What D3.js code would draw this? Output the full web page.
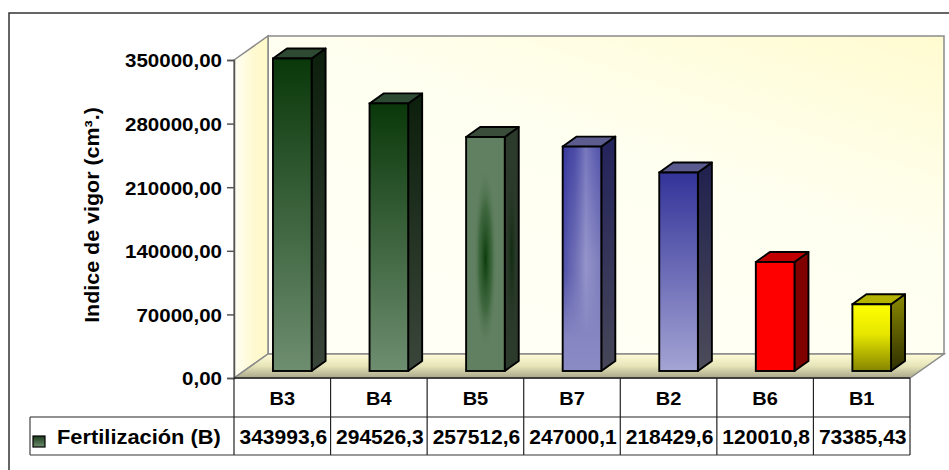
<!DOCTYPE html>
<html>
<head>
<meta charset="utf-8">
<script src="https://cdn.jsdelivr.net/npm/d3@7"></script>
<style>
  html, body { margin: 0; padding: 0; background: #fff; }
  svg { display: block; font-family: "Liberation Sans", Arial, sans-serif; font-weight: bold; }
</style>
</head>
<body>
<svg id="chart" width="949" height="470"></svg>
<script>
// Data
const categories = ["B3", "B4", "B5", "B7", "B2", "B6", "B1"];
const values = [343993.6, 294526.3, 257512.6, 247000.1, 218429.6, 120010.8, 73385.43];
const valueLabels = ["343993,6", "294526,3", "257512,6", "247000,1", "218429,6", "120010,8", "73385,43"];
const tickValues = [0, 70000, 140000, 210000, 280000, 350000];
const seriesName = "Fertilización (B)";
const axisTitle = "Indice de vigor (cm³.)";

const svg = d3.select("#chart");
const defs = svg.append("defs");

// Plot geometry
const plotLeft = 234, plotRight = 910, plotBottom = 378, plotTop = 60;
const wallDX = 34, wallDY = -24;          // depth of the 3D box
const barFrontDX = 10, barFrontDY = -7;    // bar front face offset into depth
const barDX = 14, barDY = -10;             // bar depth

const x = d3.scaleBand().domain(categories).range([plotLeft, plotRight]).padding(0);
const y = d3.scaleLinear().domain([0, 350000]).range([plotBottom, plotTop]);

// Gradient helpers
function linGrad(id, stops, x1 = 0, y1 = 0, x2 = 0, y2 = 1) {
  const g = defs.append("linearGradient").attr("id", id)
    .attr("x1", x1).attr("y1", y1).attr("x2", x2).attr("y2", y2);
  stops.forEach(([o, c, op]) => g.append("stop").attr("offset", o).attr("stop-color", c)
    .attr("stop-opacity", op == null ? 1 : op));
  return `url(#${id})`;
}

// Walls
const backWall = linGrad("backWall", [[0, "#fffbd0"], [0.45, "#fffff0"], [1, "#fffff6"]], 1, 0, 0.3, 1);
const leftWall = linGrad("leftWall", [[0, "#fffff4"], [0.6, "#fff9d0"], [1, "#fff8c8"]], 0, 0, 1, 0);
const floorG = linGrad("floorG", [[0, "#fdfcd8"], [0.5, "#e6e4b8"], [1, "#a9a78a"]], 0, 0, 0, 1);

svg.append("rect")
  .attr("x", plotLeft + wallDX).attr("y", plotTop + wallDY)
  .attr("width", plotRight - plotLeft).attr("height", plotBottom - plotTop)
  .attr("fill", backWall).attr("stroke", "#8a8a8a").attr("stroke-width", 1.5);

svg.append("path")
  .attr("d", `M${plotLeft},${plotTop} L${plotLeft + wallDX},${plotTop + wallDY} L${plotLeft + wallDX},${plotBottom + wallDY} L${plotLeft},${plotBottom} Z`)
  .attr("fill", leftWall).attr("stroke", "#8a8a8a").attr("stroke-width", 1.5);

svg.append("path")
  .attr("d", `M${plotLeft},${plotBottom} L${plotLeft + wallDX},${plotBottom + wallDY} L${plotRight + wallDX},${plotBottom + wallDY} L${plotRight},${plotBottom} Z`)
  .attr("fill", floorG).attr("stroke", "#8a8a8a").attr("stroke-width", 1.5);

// Bar styles
const styles = [
  { front: linGrad("f0", [[0, "#0a380a"], [1, "#6e8e70"]]),
    side: linGrad("s0", [[0, "#0c1e0c"], [1, "#3a463a"]]),
    top: "#2f4a32" },
  { front: linGrad("f1", [[0, "#0a380a"], [1, "#6e8e70"]]),
    side: linGrad("s1", [[0, "#0c1e0c"], [1, "#3a463a"]]),
    top: "#2f4a32" },
  { front: "#618061", side: "#2c3a2c", top: "#3a4d3a", glow: true },
  { front: linGrad("f3", [[0, "#4848a6"], [0.5, "#7c7cbc"], [1, "#8a8ac5"]]),
    side: linGrad("s3", [[0, "#23235c"], [1, "#464658"]]),
    top: "#5c5c8e", stripe: true },
  { front: linGrad("f4", [[0, "#333399"], [1, "#a4a4d4"]]),
    side: linGrad("s4", [[0, "#20204e"], [1, "#4c4c5a"]]),
    top: "#5a5a8e" },
  { front: "#ff0000", side: "#800000", top: "#c00000" },
  { front: linGrad("f6", [[0, "#ffff00"], [0.45, "#e6e600"], [1, "#858500"]]),
    side: linGrad("s6", [[0, "#8a8a00"], [1, "#2e2e00"]]),
    top: "#b4b400" }
];

// Dark vertical streak inside the B5 bar
const glow = defs.append("radialGradient").attr("id", "glow")
  .attr("cx", 0.5).attr("cy", 0.52).attr("r", 0.5)
  .attr("gradientTransform", "translate(0.5,0.52) scale(0.6,0.8) translate(-0.5,-0.52)");
glow.append("stop").attr("offset", 0).attr("stop-color", "#0c3c0c").attr("stop-opacity", 1);
glow.append("stop").attr("offset", 0.55).attr("stop-color", "#2c5a2c").attr("stop-opacity", 0.65);
glow.append("stop").attr("offset", 1).attr("stop-color", "#618061").attr("stop-opacity", 0);
const glowSide = defs.append("radialGradient").attr("id", "glowSide")
  .attr("cx", 0.5).attr("cy", 0.52).attr("r", 0.5)
  .attr("gradientTransform", "translate(0.5,0.52) scale(0.9,0.8) translate(-0.5,-0.52)");
glowSide.append("stop").attr("offset", 0).attr("stop-color", "#0c2a0c").attr("stop-opacity", 0.9);
glowSide.append("stop").attr("offset", 1).attr("stop-color", "#2c3a2c").attr("stop-opacity", 0);

// Vertical light stripes across B7, fading out towards the bottom
const stripe = linGrad("stripe", [[0, "#2a2a98", 0.6], [0.3, "#5050a8", 0.35], [0.6, "#b4b4de", 0.45], [0.8, "#a0a0d0", 0.3], [1, "#8080c0", 0.2]], 0, 0, 1, 0);
const fadeMaskGrad = linGrad("fadeMaskGrad", [[0, "#fff"], [0.55, "#fff"], [0.85, "#000"]]);
defs.append("mask").attr("id", "fadeMask").attr("maskContentUnits", "objectBoundingBox")
  .append("rect").attr("width", 1).attr("height", 1).attr("fill", fadeMaskGrad);

const barW = x.bandwidth() * 0.4;
const bars = svg.append("g").selectAll("g").data(categories).join("g");

bars.each(function (c, i) {
  const g = d3.select(this);
  const st = styles[i];
  const x0 = x(c) + (x.bandwidth() - barW) / 2 + barFrontDX;
  const x1 = x0 + barW;
  const yb = y(0) + barFrontDY;
  const yt = y(values[i]) + barFrontDY;
  const sw = 1.9;
  const sideD = `M${x1},${yt} L${x1 + barDX},${yt + barDY} L${x1 + barDX},${yb + barDY} L${x1},${yb} Z`;
  // side face
  g.append("path").attr("d", sideD).attr("fill", st.side);
  if (st.glow) g.append("path").attr("d", sideD).attr("fill", "url(#glowSide)");
  g.append("path").attr("d", sideD)
    .attr("fill", "none").attr("stroke", "#000").attr("stroke-width", sw).attr("stroke-linejoin", "round");
  // top face
  g.append("path")
    .attr("d", `M${x0},${yt} L${x0 + barDX},${yt + barDY} L${x1 + barDX},${yt + barDY} L${x1},${yt} Z`)
    .attr("fill", st.top).attr("stroke", "#000").attr("stroke-width", sw).attr("stroke-linejoin", "round");
  // front face
  g.append("rect").attr("x", x0).attr("y", yt).attr("width", barW).attr("height", yb - yt)
    .attr("fill", st.front);
  if (st.glow) {
    g.append("rect").attr("x", x0).attr("y", yt).attr("width", barW).attr("height", yb - yt)
      .attr("fill", "url(#glow)");
  }
  if (st.stripe) {
    g.append("rect").attr("x", x0).attr("y", yt).attr("width", barW).attr("height", yb - yt)
      .attr("fill", stripe).attr("mask", "url(#fadeMask)");
  }
  g.append("rect").attr("x", x0).attr("y", yt).attr("width", barW).attr("height", yb - yt)
    .attr("fill", "none").attr("stroke", "#000").attr("stroke-width", sw);
});

// Stretch text horizontally by a factor
function stretch(sel, factor) {
  sel.each(function () {
    const w = this.getComputedTextLength();
    d3.select(this).attr("textLength", w * factor).attr("lengthAdjust", "spacingAndGlyphs");
  });
}

// Y axis
const yAxis = svg.append("g").attr("transform", `translate(${plotLeft},0)`)
  .call(d3.axisLeft(y).tickValues(tickValues).tickSize(7).tickPadding(5)
    .tickFormat(d => d.toFixed(2).replace(".", ",")));
yAxis.select(".domain").attr("stroke", "#555").attr("stroke-width", 1.5);
yAxis.selectAll(".tick line").attr("stroke", "#555").attr("stroke-width", 1.5);
yAxis.selectAll(".tick text")
  .attr("font-size", 19).attr("font-weight", "bold").attr("fill", "#000")
  .attr("font-family", "'Liberation Sans', Arial, sans-serif").attr("dy", "0.36em");
stretch(yAxis.selectAll(".tick text"), 1.08);

// Axis title
const title = svg.append("text")
  .attr("transform", `translate(99,215) rotate(-90)`)
  .attr("text-anchor", "middle").attr("font-size", 19.5).attr("fill", "#000")
  .text(axisTitle);
stretch(title, 1.1);

// Data table
const tableLeft = 30, rowMid = 417, tableBottom = 455;
const table = svg.append("g");
table.append("line").attr("x1", plotLeft).attr("x2", plotRight).attr("y1", plotBottom).attr("y2", plotBottom)
  .attr("stroke", "#222").attr("stroke-width", 1.5);
table.append("line").attr("x1", tableLeft).attr("x2", plotRight).attr("y1", rowMid).attr("y2", rowMid)
  .attr("stroke", "#222").attr("stroke-width", 1.2);
table.append("line").attr("x1", tableLeft).attr("x2", plotRight).attr("y1", tableBottom).attr("y2", tableBottom)
  .attr("stroke", "#777").attr("stroke-width", 1.5);
table.append("line").attr("x1", tableLeft).attr("x2", tableLeft).attr("y1", rowMid).attr("y2", tableBottom)
  .attr("stroke", "#444").attr("stroke-width", 1.2);
const colEdges = categories.map(c => x(c)).concat([plotRight]);
table.selectAll("line.col").data(colEdges).join("line").attr("class", "col")
  .attr("x1", d => d).attr("x2", d => d).attr("y1", plotBottom).attr("y2", tableBottom)
  .attr("stroke", "#222").attr("stroke-width", 1.2);

const catText = table.selectAll("text.cat").data(categories).join("text").attr("class", "cat")
  .attr("x", d => x(d) + x.bandwidth() / 2).attr("y", 404.5)
  .attr("text-anchor", "middle").attr("font-size", 18.5).attr("fill", "#000")
  .text(d => d);
stretch(catText, 1.08);

const valText = table.selectAll("text.val").data(valueLabels).join("text").attr("class", "val")
  .attr("x", (d, i) => x(categories[i]) + x.bandwidth() / 2 + 1).attr("y", 444)
  .attr("text-anchor", "middle").attr("font-size", 21).attr("fill", "#000")
  .text(d => d);
stretch(valText, 1.0);

// Legend key and series name
const keyG = linGrad("keyG", [[0, "#1c3a1c"], [1, "#6e8e70"]]);
table.append("rect").attr("x", 33).attr("y", 436).attr("width", 12).attr("height", 11)
  .attr("fill", keyG).attr("stroke", "#000").attr("stroke-width", 1.2);
const legText = table.append("text").attr("x", 57).attr("y", 444)
  .attr("font-size", 19.5).attr("fill", "#000").text(seriesName);
stretch(legText, 1.12);

// Chart frame
svg.append("rect").attr("x", 9).attr("y", 13).attr("width", 1000).attr("height", 520)
  .attr("fill", "none").attr("stroke", "#333").attr("stroke-width", 1.5);
</script>
</body>
</html>
